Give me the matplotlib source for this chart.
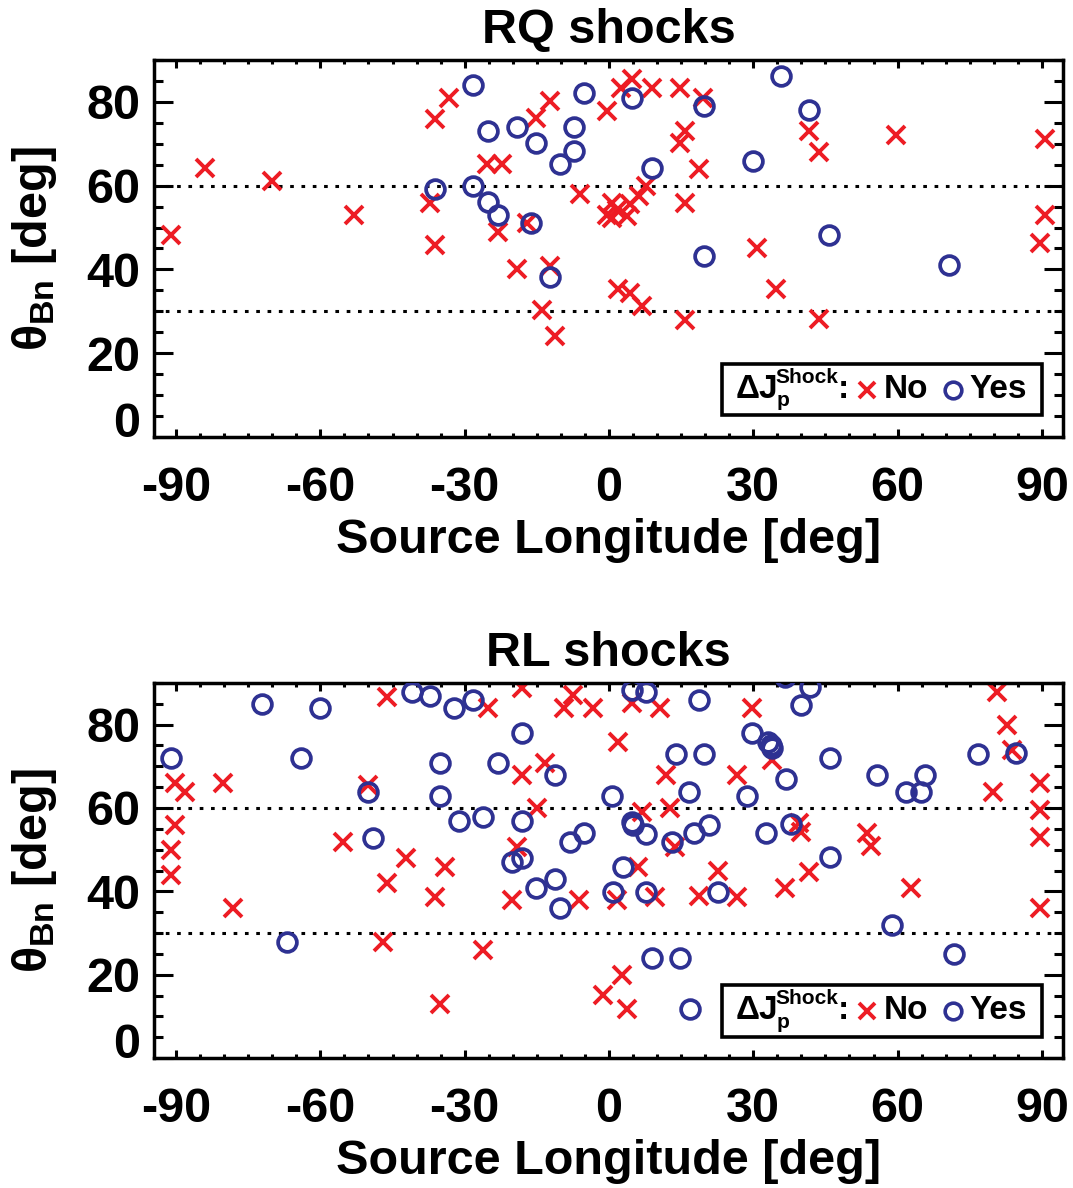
import matplotlib

matplotlib.use("Agg")

import matplotlib.pyplot as plt
from matplotlib.patches import Rectangle
from matplotlib.lines import Line2D

plt.rcParams["font.family"] = ["Liberation Sans", "DejaVu Sans"]
plt.rcParams["font.weight"] = "bold"
plt.rcParams["mathtext.fontset"] = "custom"
plt.rcParams["mathtext.rm"] = "Liberation Sans:bold"
plt.rcParams["mathtext.it"] = "Liberation Sans:bold"
plt.rcParams["mathtext.bf"] = "Liberation Sans:bold"
plt.rcParams["mathtext.sf"] = "Liberation Sans:bold"

RED = "#ED1C24"
BLUE = "#2E3192"

# RQ shocks: no Jp change (crosses)
rq_no_lon = [-91.1, -84.0, -70.0, -53.1, -36.2, -33.2, -37.2, -36.2, -25.4, -22.3,
             -23.1, -19.2, -17.1, -15.2, -12.3, -14.0, -11.2, -12.3, -6.0, -0.5,
             2.6, 4.7, 8.9, 14.8, 19.6, 15.8, 14.8, 18.8, 15.8, 7.8,
             6.3, -0.5, 0.6, 1.6, 3.7, 4.4, 0.6, 1.9, 4.4, 6.8,
             15.8, 30.7, 34.7, 41.6, 43.7, 43.7, 59.7, 90.6, 90.6, 89.6]
rq_no_theta = [48.1, 64.1, 61.1, 52.9, 75.8, 81.0, 55.9, 45.9, 65.1, 65.1,
               48.9, 40.1, 51.1, 76.2, 80.2, 30.4, 24.0, 40.7, 58.1, 77.8,
               83.4, 85.4, 83.2, 83.2, 81.0, 73.0, 70.2, 64.0, 55.9, 59.9,
               57.5, 53.1, 55.9, 54.3, 52.7, 55.5, 52.3, 35.3, 34.4, 31.2,
               28.0, 45.1, 35.3, 73.0, 68.0, 28.2, 72.0, 71.1, 53.1, 46.3]

# RQ shocks: Jp change (circles)
rq_yes_lon = [-28.2, -25.1, -19.2, -15.2, -5.2, -7.2, -7.2, -10.2, -36.2, -28.2,
              -25.1, -23.1, -16.2, -12.3, 4.7, 19.8, 35.8, 41.6, 8.9, 29.9,
              19.8, 45.8, 70.7]
rq_yes_theta = [84.0, 73.0, 74.0, 70.1, 82.1, 74.0, 68.3, 65.1, 59.1, 60.0,
                56.1, 53.1, 51.1, 38.1, 81.0, 79.0, 86.1, 78.1, 64.1, 66.0,
                43.1, 48.1, 41.1]

# RL shocks: no Jp change (crosses)
rl_no_lon = [-90.2, -88.1, -90.2, -91.1, -91.1, -80.2, -78.1, -55.2, -46.2, -50.0,
             -46.2, -42.2, -36.2, -34.1, -47.0, -26.1, -35.1, -25.1, -18.1, -18.1,
             -13.3, -15.0, -19.2, -20.2, -9.4, -7.4, -3.3, -6.2, -1.2, 4.7,
             10.6, 1.9, 11.8, 6.8, 12.7, 13.7, 6.1, 1.6, 9.6, 18.8,
             22.7, 26.7, 29.8, 26.7, 33.8, 39.6, 40.0, 36.6, 41.6, 53.6,
             54.4, 62.7, 80.6, 82.7, 83.7, 79.8, 89.6, 89.6, 89.6, 89.6,
             2.8, 3.8]
rl_no_theta = [66.0, 63.9, 55.9, 49.9, 43.9, 65.9, 35.9, 51.9, 86.6, 65.5,
               41.9, 47.9, 38.7, 45.9, 27.9, 25.9, 12.9, 83.9, 88.7, 67.9,
               70.8, 60.1, 50.7, 37.9, 83.9, 87.1, 83.9, 37.9, 15.1, 85.2,
               83.9, 75.9, 67.9, 59.1, 59.9, 50.7, 45.9, 37.9, 38.7, 38.8,
               44.8, 38.7, 83.9, 67.9, 71.5, 56.5, 54.2, 40.7, 44.7, 53.9,
               51.0, 40.7, 87.8, 79.9, 73.9, 63.9, 65.9, 59.6, 53.1, 35.9,
               19.9, 11.7]

# RL shocks: Jp change (circles)
rl_yes_lon = [-91.1, -72.1, -60.1, -64.0, -67.0, -50.0, -49.1, -41.0, -37.2, -32.2,
              -28.2, -35.1, -35.1, -31.1, -26.1, -23.1, -18.1, -18.1, -20.2, -18.1,
              -11.2, -8.1, -5.1, -15.2, -11.2, -10.2, 0.7, 0.8, 4.7, 7.8,
              18.8, 40.0, 41.8, 36.6, 29.8, 33.0, 33.6, 33.8, 13.9, 19.8,
              45.9, 36.8, 16.7, 28.7, 55.8, 65.7, 61.7, 64.8, 76.8, 84.6,
              4.7, 5.0, 7.8, 13.0, 17.6, 20.8, 32.6, 37.8, 45.9, 2.9,
              7.8, 22.7, 58.8, 71.7, 8.9, 14.8, 16.8]
rl_yes_theta = [71.9, 84.9, 83.9, 71.9, 27.9, 63.9, 52.9, 87.8, 86.9, 83.9,
                86.0, 70.8, 62.8, 56.9, 57.9, 70.8, 77.9, 56.9, 47.1, 47.9,
                67.9, 51.9, 53.9, 40.7, 42.9, 35.9, 62.8, 39.9, 88.2, 87.9,
                86.0, 84.7, 89.0, 91.5, 77.9, 75.9, 75.0, 74.4, 72.9, 72.9,
                71.9, 67.0, 63.9, 62.8, 67.9, 67.9, 63.9, 63.9, 72.9, 73.1,
                56.7, 55.9, 53.7, 51.9, 53.9, 55.9, 53.9, 56.1, 48.2, 45.9,
                39.9, 39.9, 31.9, 24.9, 23.9, 23.9, 11.7]

x_ticks = [-90, -60, -30, 0, 30, 60, 90]
y_ticks = [0, 20, 40, 60, 80]
ref_angles = [30, 60]

panels = [
    ("RQ shocks", rq_no_lon, rq_no_theta, rq_yes_lon, rq_yes_theta),
    ("RL shocks", rl_no_lon, rl_no_theta, rl_yes_lon, rl_yes_theta),
]

fig = plt.figure(figsize=(10.73, 11.88), dpi=100)
axes_rects = [
    [0.1435, 0.6322, 0.8472, 0.3173],
    [0.1435, 0.1094, 0.8472, 0.3157],
]

for rect, (title, no_x, no_y, yes_x, yes_y) in zip(axes_rects, panels):
    ax = fig.add_axes(rect)
    ax.set_xlim(-94.6, 94.4)
    ax.set_ylim(0, 90)

    for a in ref_angles:
        ax.axhline(a, color="black", lw=2.2, ls=(0, (1.2, 2.5)), zorder=1)

    ax.plot(no_x, no_y, ls="none", marker="x", ms=13.5, mew=2.8, color=RED, zorder=2)
    ax.plot(yes_x, yes_y, ls="none", marker="o", ms=13.5, mew=2.7,
            mfc="none", mec=BLUE, zorder=3)

    ax.set_xticks(x_ticks)
    ax.set_xticks(range(-90, 91, 5), minor=True)
    ax.set_yticks(y_ticks)
    ax.set_yticks(range(0, 91, 5), minor=True)
    ax.set_xticklabels([str(v) for v in x_ticks])
    ax.set_yticklabels([str(v) for v in y_ticks])

    ax.tick_params(axis="both", which="both", direction="in",
                   top=True, right=True, width=2.2, labelsize=35)
    ax.tick_params(axis="x", which="major", length=5.8, pad=21)
    ax.tick_params(axis="x", which="minor", length=2.8)
    ax.tick_params(axis="y", which="major", length=13.7, pad=10)
    ax.tick_params(axis="y", which="minor", length=6.8)
    ax.get_yticklabels()[0].set_va("baseline")

    for s in ax.spines.values():
        s.set_linewidth(2.5)

    ax.set_title(title, fontsize=35, fontweight="bold", pad=12.5)
    ax.set_xlabel("Source Longitude [deg]", fontsize=35, fontweight="bold")
    ax.xaxis.set_label_coords(0.5, -0.308)
    ax.xaxis.label.set_va("baseline")
    ax.set_ylabel(r"$\theta_{Bn}$ [deg]", fontsize=35, fontweight="bold")
    ax.yaxis.set_label_coords(-0.131, 0.5)
    ax.yaxis.label.set_va("center")

    # legend box
    box_y, box_h = 0.057, 0.137
    ax.add_patch(Rectangle((0.625, box_y), 0.352, box_h, transform=ax.transAxes,
                           fill=True, facecolor="white", edgecolor="black",
                           lw=2.6, zorder=5))
    ty = box_y + box_h / 2
    kw = dict(transform=ax.transAxes, fontweight="bold", ha="left", zorder=6)
    ax.text(0.640, ty, "\u0394J", fontsize=24, va="center", **kw)
    ax.text(0.684, ty + 0.033, "Shock", fontsize=15, va="center", **kw)
    ax.text(0.685, ty - 0.030, "p", fontsize=15, va="center", **kw)
    ax.text(0.752, ty, ":", fontsize=24, va="center", **kw)
    ax.add_line(Line2D([0.784], [ty], transform=ax.transAxes, marker="x", ms=12,
                       mew=2.8, color=RED, ls="none", zorder=6))
    ax.text(0.803, ty, "No", fontsize=24, va="center", **kw)
    ax.add_line(Line2D([0.879], [ty], transform=ax.transAxes, marker="o", ms=12,
                       mew=2.6, mfc="none", mec=BLUE, ls="none", zorder=6))
    ax.text(0.897, ty, "Yes", fontsize=24, va="center", **kw)

fig.savefig("out.png", dpi=100)
